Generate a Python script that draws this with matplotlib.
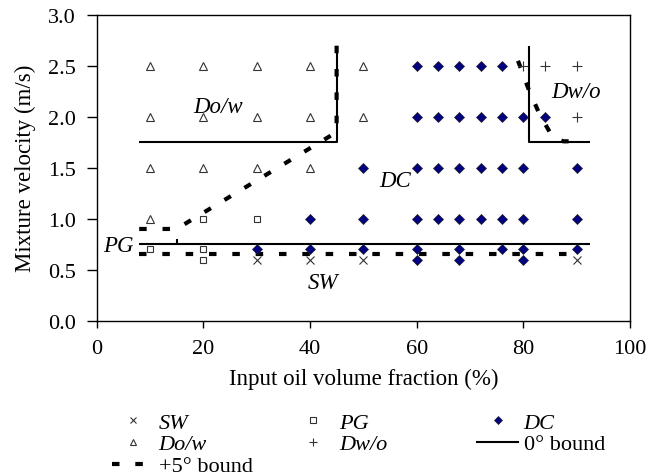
import matplotlib
matplotlib.use("Agg")
import matplotlib.pyplot as plt
from matplotlib.lines import Line2D

plt.rcParams["font.family"] = ["Liberation Serif", "DejaVu Serif"]

# flow pattern observations: oil fraction (%) and mixture velocity (m/s)
sw_x = [30, 40, 50, 90]
sw_y = [0.6, 0.6, 0.6, 0.6]

pg_x = [10, 20, 20, 20, 30]
pg_y = [0.7, 1.0, 0.7, 0.6, 1.0]

dc_x = [60, 64, 68, 72, 76,
        60, 64, 68, 72, 76, 80, 84,
        50, 60, 64, 68, 72, 76, 80, 90,
        40, 50, 60, 64, 68, 72, 76, 80, 90,
        30, 40, 50, 60, 68, 76, 80, 90,
        60, 68, 80]
dc_y = [2.5] * 5 + [2.0] * 7 + [1.5] * 8 + [1.0] * 9 + [0.7] * 8 + [0.6] * 3

dow_x = [10, 10, 10, 10, 20, 20, 20, 30, 30, 30, 40, 40, 40, 50, 50]
dow_y = [2.5, 2.0, 1.5, 1.0, 2.5, 2.0, 1.5, 2.5, 2.0, 1.5, 2.5, 2.0, 1.5, 2.5, 2.0]

dwo_x = [80, 84, 90, 90]
dwo_y = [2.5, 2.5, 2.5, 2.0]

# transition boundaries, 0 deg (solid) and +5 deg (dashed)
bound0 = [
    ([8, 92.5], [0.75, 0.75]),
    ([15, 15], [0.75, 0.8]),
    ([8, 45, 45], [1.75, 1.75, 2.7]),
    ([81, 81, 92.5], [2.7, 1.75, 1.75]),
]
bound5 = [
    ([8, 89.5], [0.65, 0.65]),
    ([8, 15, 45, 45], [0.9, 0.9, 1.85, 2.7]),
    ([79, 81, 83, 85.5, 87.5, 90], [2.55, 2.27, 2.03, 1.8, 1.76, 1.76]),
]

# region names and where they sit
region_names = ["Do/w", "Dw/o", "DC", "SW"]
region_x = [22.7, 89.8, 55.9, 42.5]
region_y = [2.045, 2.19, 1.32, 0.318]

fig = plt.figure(figsize=(6.46, 4.77), dpi=100)
ax = fig.add_axes([0.1494, 0.3256, 0.8259, 0.641])

dash_kw = dict(color="black", lw=3.0, dashes=(1.8, 3.8), dash_capstyle="butt")
for xs, ys in bound5:
    ax.plot(xs, ys, **dash_kw)
for xs, ys in bound0:
    ax.plot(xs, ys, color="black", lw=1.5, solid_capstyle="butt")

sw_kw = dict(marker="x", color="#333333", ms=5.5, mew=0.8, ls="none")
pg_kw = dict(marker="s", mfc="white", mec="#333333", ms=5, mew=0.8, ls="none")
dc_kw = dict(marker="D", mfc="#000080", mec="#222222", ms=5, mew=0.5, ls="none")
dow_kw = dict(marker="^", mfc="white", mec="#333333", ms=5.5, mew=0.8, ls="none")
dwo_kw = dict(marker="+", color="#333333", ms=6.5, mew=0.8, ls="none")

ax.plot(sw_x, sw_y, **sw_kw)
ax.plot(pg_x, pg_y, **pg_kw)
ax.plot(dc_x, dc_y, **dc_kw)
ax.plot(dow_x, dow_y, **dow_kw)
ax.plot(dwo_x, dwo_y, **dwo_kw)

for name, x, y in zip(region_names, region_x, region_y):
    ax.text(x, y, name, style="italic", fontsize=16.5, ha="center", va="baseline")
ax.text(6.9, 0.687, "PG", style="italic", fontsize=16.5, ha="right", va="baseline",
        clip_on=False)

ax.set_xlim(0, 100)
ax.set_ylim(0, 3.0)
ax.set_xticks(range(0, 101, 20))
ax.set_yticks([0.0, 0.5, 1.0, 1.5, 2.0, 2.5, 3.0])
ax.set_yticklabels(["%.1f" % v for v in ax.get_yticks()])
ax.tick_params(axis="x", direction="out", length=5, width=1, labelsize=16, pad=8.5)
ax.tick_params(axis="y", direction="out", length=7, width=1, labelsize=16, pad=8)
for sp in ax.spines.values():
    sp.set_linewidth(1.0)
ax.set_xlabel("Input oil volume fraction (%)", fontsize=16.5, labelpad=7)
ax.set_ylabel("Mixture velocity (m/s)", fontsize=16.5, labelpad=8.5)

# legend in three columns
leg_kw = dict(loc="upper left", frameon=False, fontsize=16, borderpad=0,
              borderaxespad=0, handlelength=1.85, handletextpad=0.25,
              labelspacing=0.06, markerscale=0.8)
columns = [
    ([sw_kw, dow_kw, dash_kw], ["SW", "Do/w", "+5° bound"], 112),
    ([pg_kw, dwo_kw], ["PG", "Dw/o"], 292.5),
    ([dc_kw, dict(color="black", lw=1.5)], ["DC", "0° bound"], 477),
]
for styles, labels, left in columns:
    handles = [Line2D([], [], **kw) for kw in styles]
    leg = fig.legend(handles, labels, bbox_to_anchor=(left / 646, 1 - 413 / 477),
                     **leg_kw)
    for txt in leg.get_texts():
        if "bound" not in txt.get_text():
            txt.set_fontstyle("italic")

fig.savefig("out.png", dpi=100)
